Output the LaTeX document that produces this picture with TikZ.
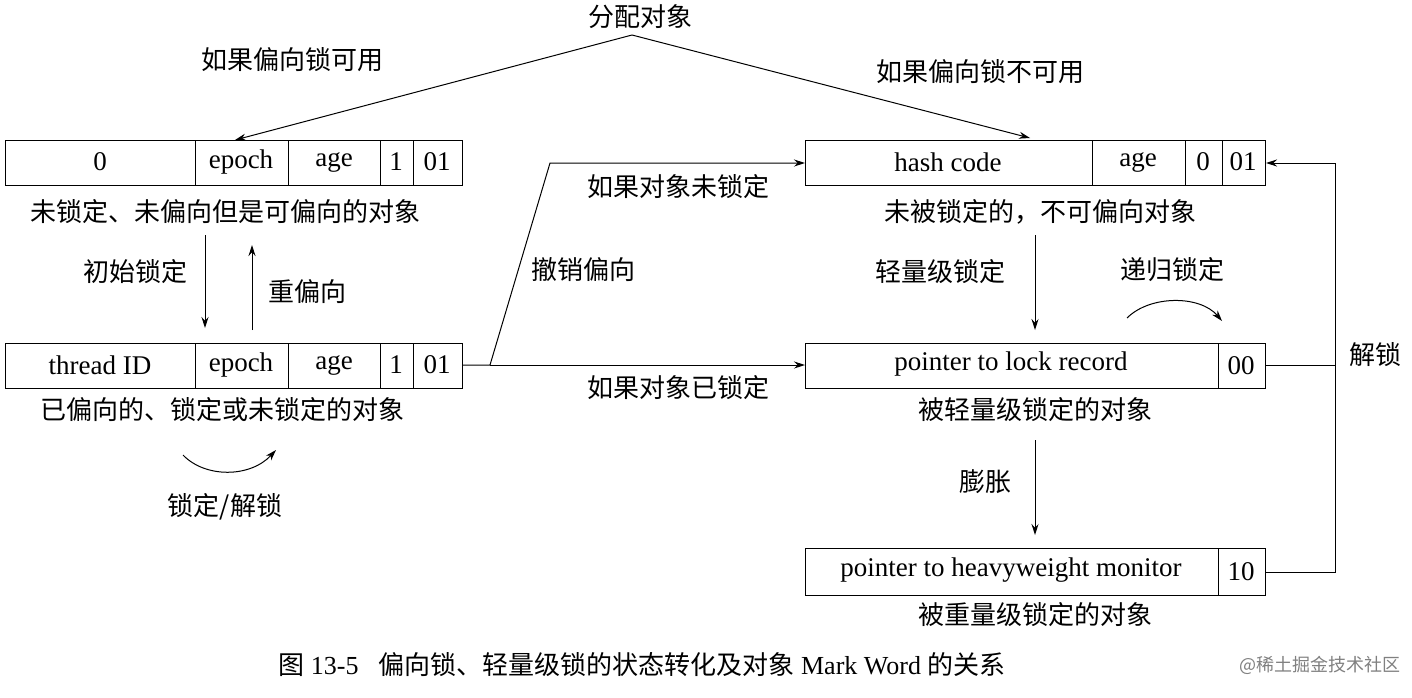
\documentclass[tikz,border=0pt]{standalone}
\usepackage{fontspec}
\setmainfont{Liberation Serif}
\newfontfamily\cjk{Noto Sans CJK SC}
\usetikzlibrary{arrows.meta}
\begin{document}
\begin{tikzpicture}[x=1pt,y=-1pt,
  lbl/.style={font=\cjk\fontsize{26}{28}\selectfont,inner sep=0pt},
  fld/.style={font=\fontsize{27}{29}\selectfont,inner sep=0pt},
  ln/.style={line width=1pt},
  ar/.style={line width=1pt,-{Stealth[length=11pt,width=7pt]}}]
\useasboundingbox (0,0) rectangle (1412,697);
% left row 1
\draw[ln] (5,140) rectangle (462,185);
\foreach \x in {195,288,380,413} \draw[ln] (\x,140)--(\x,185);
\node[fld] at (100,162) {0};
\node[fld] at (241,162) {epoch};
\node[fld] at (334,162) {age};
\node[fld] at (396,162) {1};
\node[fld] at (437,162) {01};
\node[lbl] (c1) at (225,212) {未锁定、未偏向但是可偏向的对象};
% left row 2
\draw[ln] (5,343) rectangle (462,388);
\foreach \x in {195,288,380,413} \draw[ln] (\x,343)--(\x,388);
\node[fld] at (100,365) {thread ID};
\node[fld] at (241,365) {epoch};
\node[fld] at (334,365) {age};
\node[fld] at (396,365) {1};
\node[fld] at (437,365) {01};
\node[lbl] (c2) at (222,410) {已偏向的、锁定或未锁定的对象};
\coordinate (a1) at (205,235); \coordinate (a2) at (205,328);
\draw[ar] (a1)--(a2);
\node[lbl] at (135,272) {初始锁定};
\coordinate (b1) at (252,330); \coordinate (b2) at (252,245);
\draw[ar] (b1)--(b2);
\node[lbl] at (307,292) {重偏向};
\coordinate (l1) at (183,455); \coordinate (l2) at (276,450);
\draw[ar] (l1) .. controls (205,478) and (250,478) .. (l2);
\node[lbl] at (225,507) {锁定/解锁};
% top
\node[lbl] (top) at (640,17) {分配对象};
\coordinate (t0) at (632,35);
\coordinate (tl) at (235,140); \coordinate (tr) at (1030,138);
\draw[ar] (t0)--(tl);
\draw[ar] (t0)--(tr);
\node[lbl] at (292,60) {如果偏向锁可用};
\node[lbl] at (980,72) {如果偏向锁不可用};
% right row 1
\draw[ln] (805,140) rectangle (1265,185);
\foreach \x in {1092,1185,1222} \draw[ln] (\x,140)--(\x,185);
\node[fld] at (948,162) {hash code};
\node[fld] at (1138,162) {age};
\node[fld] at (1203,162) {0};
\node[fld] at (1243,162) {01};
\node[lbl] at (1040,212) {未被锁定的，不可偏向对象};
% right row 2
\draw[ln] (805,343) rectangle (1265,388);
\draw[ln] (1218,343)--(1218,388);
\node[fld] at (1011,364) {pointer to lock record};
\node[fld] at (1241,366) {00};
\node[lbl] at (1035,410) {被轻量级锁定的对象};
% right row 3
\draw[ln] (805,548) rectangle (1265,595);
\draw[ln] (1218,548)--(1218,595);
\node[fld] at (1011,570) {pointer to heavyweight monitor};
\node[fld] at (1241,572) {10};
\node[lbl] at (1035,615) {被重量级锁定的对象};
% right arrows
\coordinate (d1) at (1035,235); \coordinate (d2) at (1035,330);
\draw[ar] (d1)--(d2);
\node[lbl] at (940,272) {轻量级锁定};
\coordinate (e1) at (1035,440); \coordinate (e2) at (1035,535);
\draw[ar] (e1)--(e2);
\node[lbl] at (985,482) {膨胀};
\coordinate (r1) at (1127,318); \coordinate (r2) at (1222,321);
\draw[ar] (r1) .. controls (1150,295) and (1200,295) .. (r2);
\node[lbl] at (1172,270) {递归锁定};
% unlock
\coordinate (u1) at (1265,365); \coordinate (u2) at (1335,365);
\coordinate (u3) at (1265,572); \coordinate (u4) at (1335,572);
\coordinate (u5) at (1335,163); \coordinate (u6) at (1266,163);
\draw[ln] (u1)--(u2);
\draw[ar] (u3)--(u4)--(u5)--(u6);
\node[lbl] at (1375,355) {解锁};
% revoke
\coordinate (v0) at (462,365); \coordinate (v1) at (490,365);
\coordinate (v2) at (550,163); \coordinate (v3) at (805,163);
\coordinate (v4) at (805,365);
\draw[ar] (v0)--(v1)--(v2)--(v3);
\draw[ar] (v1)--(v4);
\node[lbl] at (678,187) {如果对象未锁定};
\node[lbl] at (583,270) {撤销偏向};
\node[lbl] at (678,388) {如果对象已锁定};
% caption
\node[inner sep=0pt,font=\fontsize{26}{28}\selectfont] at (642,665) {{\cjk 图} 13-5\hspace{20pt}{\cjk 偏向锁、轻量级锁的状态转化及对象} Mark Word {\cjk 的关系}};
\node[inner sep=0pt,font=\cjk\fontsize{18}{20}\selectfont,text=gray] at (1320,665) {@稀土掘金技术社区};
\end{tikzpicture}
\end{document}
